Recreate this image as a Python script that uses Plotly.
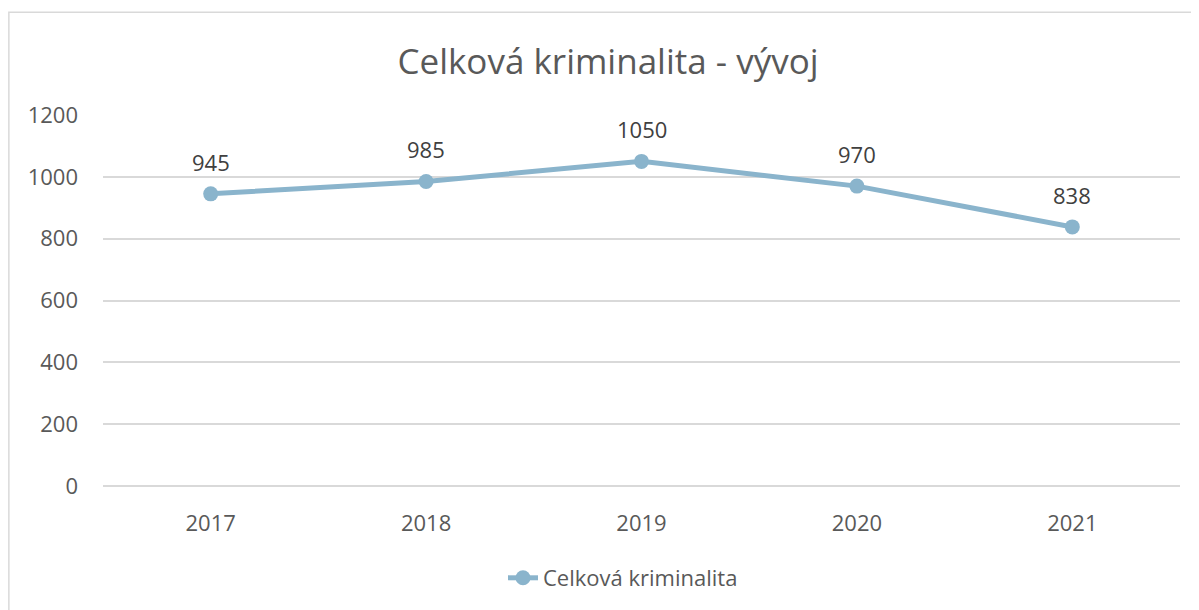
import plotly.graph_objects as go

years = ["2017", "2018", "2019", "2020", "2021"]
values = [945, 985, 1050, 970, 838]
series_name = "Celková kriminalita"
title_text = "Celková kriminalita - vývoj"
y_ticks = [0, 200, 400, 600, 800, 1000, 1200]

FONT = "Open Sans"
TXT = "#595959"
LINE = "#8ab4cc"

# page body has an 8px margin; figure coordinates = reference - 8
OFF = 8
W, H = 1199 - OFF, 610 - OFF
L, T = 103 - OFF, 115 - OFF
PR, PB = 1180 - OFF, 487 - OFF
R, B = W - PR, H - PB
pw, ph = PR - L, PB - T

fig = go.Figure()
fig.add_trace(go.Scatter(
    x=years, y=values, mode="lines+markers", name=series_name,
    line=dict(color=LINE, width=5),
    marker=dict(color=LINE, size=15),
))
for i, yv in enumerate(values):
    fig.add_annotation(x=i, y=yv, text=str(yv), showarrow=False, yshift=32,
                       font=dict(family=FONT, size=22, color="#404040"))

# outer chart border (partially outside the view)
fig.add_shape(type="rect", xref="paper", yref="paper",
              x0=(8 - OFF - L) / pw + 0.0008, x1=(W + 20 - L) / pw,
              y0=(PB - (H + 20)) / ph, y1=(PB - (12 - OFF)) / ph,
              line=dict(color="#d9d9d9", width=1.5), layer="below")

fig.update_layout(
    width=W, height=H,
    margin=dict(l=L, r=R, t=T, b=B),
    paper_bgcolor="white", plot_bgcolor="white",
    title=dict(text=title_text, x=(608 - OFF) / W, xanchor="center",
               y=1 - (62 - OFF) / H, yanchor="middle",
               font=dict(family=FONT, size=35, color=TXT)),
    font=dict(family=FONT, size=22, color=TXT),
    showlegend=True,
    legend=dict(orientation="h", x=(623 - OFF - L) / pw, xanchor="center",
                y=-(578 - OFF - PB) / ph, yanchor="middle",
                font=dict(family=FONT, size=22, color=TXT)),
    xaxis=dict(type="category", showgrid=False, showline=False, ticks="",
               ticklabelstandoff=22, tickfont=dict(size=22, color=TXT),
               range=[-0.5, 4.5]),
    yaxis=dict(range=[0, 1200], tickvals=y_ticks, showgrid=True, gridcolor="#d9d9d9",
               gridwidth=1.5, zeroline=True, zerolinecolor="#d9d9d9", zerolinewidth=1.5,
               showline=False, ticks="", ticklabelstandoff=24,
               tickfont=dict(size=22, color=TXT)),
)

fig.write_html("out.html")
